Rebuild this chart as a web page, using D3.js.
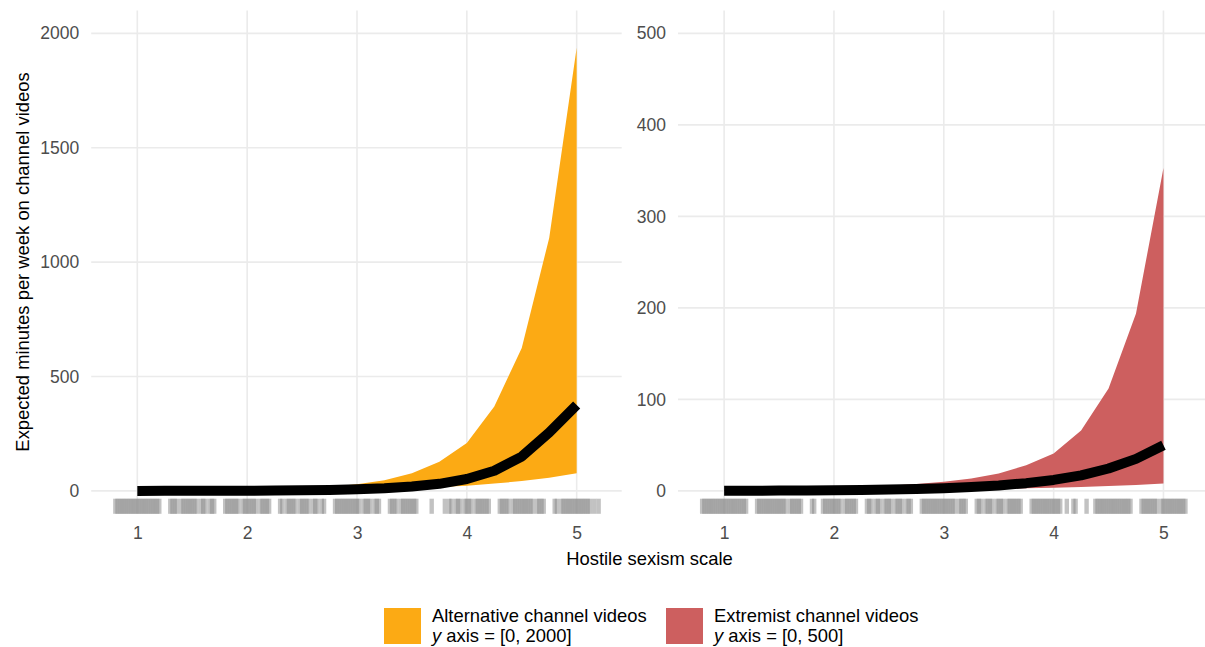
<!DOCTYPE html>
<html>
<head>
<meta charset="utf-8">
<script src="https://cdn.jsdelivr.net/npm/d3@7"></script>
<style>
  html, body { margin: 0; padding: 0; background: #ffffff; }
  svg { display: block; }
  text { font-family: "Liberation Sans", Arial, Helvetica, sans-serif; }
</style>
</head>
<body>
<svg id="chart" width="1205" height="647"></svg>
<script>
// Hostile sexism scale values at which the model predictions were evaluated
const hsGrid = [1, 1.25, 1.5, 1.75, 2, 2.25, 2.5, 2.75, 3, 3.25, 3.5, 3.75, 4, 4.25, 4.5, 4.75, 5];

// Alternative channel videos: expected minutes per week, with 95% interval
const altEstimate = [0.15, 0.25, 0.4, 0.65, 1.05, 1.7, 2.7, 4.4, 7, 11.5, 19, 31, 52, 88, 150, 255, 376];
const altLower    = [0.3, 0.45, 0.65, 0.95, 1.4, 2, 2.9, 4.2, 6, 8.5, 12, 17, 23, 32, 43, 58, 77];
const altUpper    = [0.7, 1.1, 1.7, 2.7, 4.3, 7, 11, 18, 29, 47, 77, 128, 209, 369, 625, 1106, 1937];

// Extremist channel videos: expected minutes per week, with 95% interval
const extEstimate = [0.18, 0.25, 0.36, 0.5, 0.75, 1.05, 1.5, 2.1, 3, 4.2, 6, 8.5, 12, 17, 24.5, 35, 50];
const extLower    = [0.1, 0.15, 0.2, 0.3, 0.4, 0.55, 0.75, 1, 1.3, 1.7, 2.2, 2.8, 3.5, 4.3, 5.3, 6.5, 8];
const extUpper    = [1.1, 1.4, 1.8, 2.4, 3.2, 4.2, 5.6, 7.5, 10, 13.5, 19, 28, 41, 66, 112, 194, 353];

// Observed scale scores (respondents), shown as a jittered rug: level + offset/100
const rugLevels = [1, 1.5, 2, 2.5, 3, 3.5, 4, 4.5, 5];
const altRugOffsets = [
  [-20,-18,-16,-14,-12,-10,-8,-6,-4,-2,0,2,4,6,8,10,12,14,16,18,20],
  [-20,-18,-16,-14,-10,-8,-6,-4,-2,0,2,4,8,10,12,16,18,20],
  [-20,-18,-16,-14,-12,-10,-8,-4,-2,0,2,4,6,8,12,14,16,18,20],
  [-20,-18,-14,-12,-10,-8,-6,-2,0,2,4,6,10,12,14,18,20],
  [-20,-18,-16,-14,-12,-10,-8,-6,-4,-2,0,2,6,8,10,12,16,18,20],
  [-20,-18,-16,-14,-10,-8,-6,-4,-2,0,2,4,18],
  [-20,-16,-14,-10,-8,-6,-2,0,2,4,8,10,12,14,16,18,20],
  [-20,-18,-16,-14,-12,-8,-6,-4,-2,0,2,4,6,8,10,14,16,18,20],
  [-20,-18,-14,-12,-10,-8,-6,-4,-2,0,2,4,6,8,10,12,16,20]
];
const extRugOffsets = [
  [-20,-18,-16,-14,-12,-10,-8,-6,-4,-2,0,2,4,6,8,10,12,14,16,18,20],
  [-20,-18,-16,-14,-12,-10,-8,-6,-4,-2,0,2,4,6,10,12,14,16,18,20],
  [-20,-18,-10,-8,-6,-4,-2,0,2,4,6,10,12,14,16,18,20],
  [-20,-18,-16,-12,-10,-8,-4,-2,0,2,6,8,10,12,16,18,20],
  [-20,-18,-16,-14,-12,-10,-8,-6,-4,-2,0,2,4,6,8,10,14,16,18,20],
  [-20,-18,-16,-12,-10,-8,-6,-2,0,2,4,8,10,12,14,16,18,20],
  [-20,-18,-16,-14,-12,-10,-8,-6,-4,-2,0,2,4,6,12,18,20],
  [-20,-12,-10,-8,-6,-4,-2,0,2,4,6,8,10,12,14,16,18,20],
  [-20,-18,-16,-14,-12,-10,-8,-6,-2,0,2,4,6,8,10,12,14,16,18,20]
];

// Axis ticks
const xTicks = [1, 2, 3, 4, 5];
const altYTicks = [0, 500, 1000, 1500, 2000];
const extYTicks = [0, 100, 200, 300, 400, 500];

// Legend entries
const legendTitles = ["Alternative channel videos", "Extremist channel videos"];
const legendRanges = [" axis = [0, 2000]", " axis = [0, 500]"];

const axisTitleX = "Hostile sexism scale";
const axisTitleY = "Expected minutes per week on channel videos";

const colors = { alt: "#fcaa14", ext: "#cd5f5f" };

const svg = d3.select("#chart");
svg.append("rect").attr("width", 1205).attr("height", 647).attr("fill", "#ffffff");

const panelTop = 10.5, panelBottom = 513.8;
const xDomain = [0.58, 5.41];

const panels = [
  { left: 91.2, right: 621.7, yDomain: [-100, 2100], yTicks: altYTicks,
    est: altEstimate, lo: altLower, hi: altUpper, rug: altRugOffsets, color: colors.alt },
  { left: 678, right: 1208.5, yDomain: [-25, 525], yTicks: extYTicks,
    est: extEstimate, lo: extLower, hi: extUpper, rug: extRugOffsets, color: colors.ext }
];

const tickFont = "'Liberation Sans', Arial, sans-serif";

panels.forEach(p => {
  const x = d3.scaleLinear().domain(xDomain).range([p.left, p.right]);
  const y = d3.scaleLinear().domain(p.yDomain).range([panelBottom, panelTop]);
  const g = svg.append("g");

  // grid
  const grid = g.append("g").attr("stroke", "#ebebeb").attr("stroke-width", 1.6);
  grid.selectAll("line.h").data(p.yTicks).join("line")
    .attr("x1", p.left).attr("x2", p.right)
    .attr("y1", d => y(d)).attr("y2", d => y(d));
  grid.selectAll("line.v").data(xTicks).join("line")
    .attr("x1", d => x(d)).attr("x2", d => x(d))
    .attr("y1", panelTop).attr("y2", panelBottom);

  // y axis labels
  const yAxis = d3.axisLeft(y).tickValues(p.yTicks).tickSize(0).tickPadding(12)
    .tickFormat(d3.format("d"));
  const ya = g.append("g").attr("transform", `translate(${p.left},0)`).call(yAxis);
  ya.select(".domain").remove();
  ya.selectAll("text").attr("fill", "#4d4d4d").style("font-size", "17.5px")
    .style("font-family", tickFont);

  // x axis labels
  const xAxis = d3.axisBottom(x).tickValues(xTicks).tickSize(0).tickPadding(0)
    .tickFormat(d3.format("d"));
  const xa = g.append("g").attr("transform", `translate(0,${panelBottom})`).call(xAxis);
  xa.select(".domain").remove();
  xa.selectAll("text").attr("fill", "#4d4d4d").style("font-size", "17.5px")
    .style("font-family", tickFont)
    .attr("dy", null).attr("y", 25);

  // confidence ribbon
  const rows = hsGrid.map((v, i) => ({ x: v, est: p.est[i], lo: p.lo[i], hi: p.hi[i] }));
  g.append("path").datum(rows)
    .attr("fill", p.color)
    .attr("d", d3.area().x(d => x(d.x)).y0(d => y(d.lo)).y1(d => y(d.hi)));

  // expected value line
  g.append("path").datum(rows)
    .attr("fill", "none").attr("stroke", "#000000").attr("stroke-width", 10)
    .attr("stroke-linejoin", "round").attr("stroke-linecap", "butt")
    .attr("d", d3.line().x(d => x(d.x)).y(d => y(d.est)));

  // rug of observed scores
  const rugVals = [];
  rugLevels.forEach((lvl, i) => p.rug[i].forEach(o => rugVals.push(lvl + o / 100)));
  const rugLen = (panelBottom - panelTop) * 0.03;
  g.append("g").selectAll("line").data(rugVals).join("line")
    .attr("x1", d => x(d)).attr("x2", d => x(d))
    .attr("y1", panelBottom).attr("y2", panelBottom - rugLen)
    .attr("stroke", "#858585").attr("stroke-opacity", 0.5).attr("stroke-width", 4.4);
});

// axis titles
svg.append("text")
  .attr("x", 649.5).attr("y", 565)
  .attr("text-anchor", "middle").attr("fill", "#000000")
  .style("font-size", "18.4px").text(axisTitleX);

svg.append("text")
  .attr("transform", `translate(29,262) rotate(-90)`)
  .attr("text-anchor", "middle").attr("fill", "#000000")
  .style("font-size", "18.4px").text(axisTitleY);

// legend
const legendX = [384, 666];
const legendColors = [colors.alt, colors.ext];
legendX.forEach((lx, i) => {
  const lg = svg.append("g");
  lg.append("rect").attr("x", lx).attr("y", 608).attr("width", 37).attr("height", 36)
    .attr("fill", legendColors[i]);
  lg.append("text").attr("x", lx + 48).attr("y", 622).attr("fill", "#000000")
    .style("font-size", "18.4px").text(legendTitles[i]);
  const t2 = lg.append("text").attr("x", lx + 48).attr("y", 642).attr("fill", "#000000")
    .style("font-size", "18.4px");
  t2.append("tspan").style("font-style", "italic").text("y");
  t2.append("tspan").text(legendRanges[i]);
});
</script>
</body>
</html>
